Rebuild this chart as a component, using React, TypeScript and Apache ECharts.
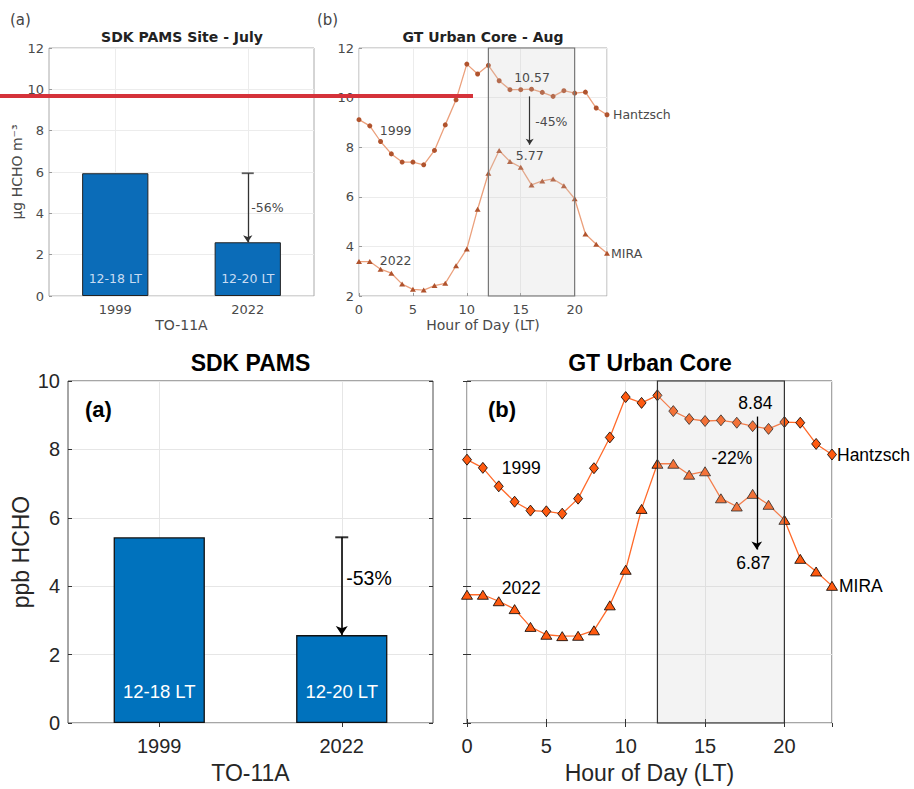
import React, { useEffect, useRef } from 'react';
import * as echarts from 'echarts';

// ---------- data ----------
const barCategories = ['1999', '2022'];
const barPeriodLabels = ['12-18 LT', '12-20 LT'];
const topBarValues = [5.94, 2.6]; // µg HCHO m-3 (TO-11A)
const bottomBarValues = [5.43, 2.57]; // ppb HCHO (TO-11A)
const topBarChange = '-56%';
const bottomBarChange = '-53%';

const hours = [0, 1, 2, 3, 4, 5, 6, 7, 8, 9, 10, 11, 12, 13, 14, 15, 16, 17, 18, 19, 20, 21, 22, 23];

const topHantzsch = [9.11, 8.86, 8.23, 7.73, 7.4, 7.4, 7.29, 7.87, 8.9, 9.91, 11.35, 10.95, 11.3, 10.68, 10.32, 10.32, 10.34, 10.21, 10.05, 10.28, 10.18, 10.22, 9.58, 9.31];
const topMira = [3.39, 3.39, 3.08, 2.92, 2.48, 2.27, 2.24, 2.42, 2.51, 3.22, 3.9, 5.5, 6.95, 7.87, 7.42, 7.19, 6.48, 6.64, 6.72, 6.45, 5.92, 4.5, 4.09, 3.72];

const bottomHantzsch = [7.7, 7.46, 6.92, 6.47, 6.21, 6.19, 6.12, 6.56, 7.45, 8.35, 9.53, 9.36, 9.58, 9.12, 8.89, 8.83, 8.85, 8.78, 8.68, 8.6, 8.8, 8.78, 8.16, 7.85];
const bottomMira = [3.75, 3.75, 3.56, 3.33, 2.81, 2.58, 2.54, 2.55, 2.71, 3.44, 4.48, 6.26, 7.58, 7.58, 7.26, 7.36, 6.57, 6.33, 6.7, 6.38, 5.94, 4.8, 4.43, 4.01];

const afternoonWindow = [12, 20];
const topDiurnalText = { before: '10.57', after: '5.77', change: '-45%' };
const bottomDiurnalText = { before: '8.84', after: '6.87', change: '-22%' };

// ---------- styles ----------
const TOPF = 'DejaVu Sans';
const BOTF = 'Liberation Sans';
const topGray = '#4a4a4a';
const botInk = '#262626';

const pairs = (vals: number[]) => hours.map((h, i) => [h, vals[i]]);

function textMarks(items: { coord: any[]; text: string; pos?: string; dist?: number }[], font: string, size: number, color: string) {
  return {
    silent: true,
    symbol: 'circle',
    symbolSize: 1,
    itemStyle: { color: 'transparent' },
    label: { show: true, color, fontSize: size, fontFamily: font },
    data: items.map((it) => ({
      coord: it.coord,
      label: it.pos
        ? { formatter: it.text, position: it.pos, distance: it.dist ?? 0 }
        : { formatter: it.text, position: 'inside', align: 'center', verticalAlign: 'middle' },
    })),
  };
}

function arrow(from: any[], to: any[], color: string, width: number, size: number) {
  return {
    silent: true,
    symbol: ['none', 'arrow'],
    symbolSize: size,
    label: { show: false },
    lineStyle: { color, width, type: 'solid' },
    data: [[{ coord: from }, { coord: to }]],
  };
}

function catGrid(color: string, xi: number) {
  return {
    type: 'line',
    xAxisIndex: xi,
    yAxisIndex: xi,
    data: [],
    markLine: {
      silent: true,
      z: 1,
      symbol: ['none', 'none'],
      label: { show: false },
      lineStyle: { color, type: 'solid', width: 1 },
      data: barCategories.map((c) => ({ xAxis: c })),
    },
  };
}

const tickOnly = (len: number, color: string) => ({
  axisLine: { show: false },
  axisTick: { show: true, inside: true, length: len, lineStyle: { color } },
  axisLabel: { show: false },
  splitLine: { show: false },
});

const option: any = {
  animation: false,
  backgroundColor: '#fff',
  grid: [
    { left: 49, top: 48, width: 265, height: 248, show: true, borderColor: '#aaa', borderWidth: 1, outerBoundsMode: 'none' },
    { left: 359, top: 48, width: 248, height: 248, show: true, borderColor: '#aaa', borderWidth: 1, outerBoundsMode: 'none' },
    { left: 68, top: 381, width: 365, height: 342, show: true, borderColor: '#4d4d4d', borderWidth: 1, outerBoundsMode: 'none' },
    { left: 467, top: 381, width: 365, height: 342, show: true, borderColor: '#4d4d4d', borderWidth: 1, outerBoundsMode: 'none' },
  ],
  xAxis: [
    {
      type: 'category', gridIndex: 0, data: barCategories,
      axisLine: { show: false },
      axisTick: { show: true, inside: true, alignWithLabel: true, length: 3, lineStyle: { color: '#999' } },
      axisLabel: { color: topGray, fontSize: 13, fontFamily: TOPF, margin: 7 },
      splitLine: { show: false },
      name: 'TO-11A', nameLocation: 'middle', nameGap: 22,
      nameTextStyle: { color: topGray, fontSize: 14, fontFamily: TOPF },
    },
    {
      type: 'value', gridIndex: 1, min: 0, max: 23, interval: 5,
      axisLine: { show: false },
      axisTick: { show: true, inside: true, length: 3, lineStyle: { color: '#999' } },
      axisLabel: { color: topGray, fontSize: 13, fontFamily: TOPF, margin: 7, showMaxLabel: false },
      splitLine: { show: true, lineStyle: { color: '#ececec' } },
      name: 'Hour of Day (LT)', nameLocation: 'middle', nameGap: 22,
      nameTextStyle: { color: topGray, fontSize: 14, fontFamily: TOPF },
    },
    {
      type: 'category', gridIndex: 2, data: barCategories,
      axisLine: { show: false },
      axisTick: { show: true, inside: true, alignWithLabel: true, length: 4, lineStyle: { color: '#333' } },
      axisLabel: { color: botInk, fontSize: 20, fontFamily: BOTF, margin: 13 },
      splitLine: { show: false },
      name: 'TO-11A', nameLocation: 'middle', nameGap: 38,
      nameTextStyle: { color: botInk, fontSize: 23, fontFamily: BOTF },
    },
    {
      type: 'value', gridIndex: 3, min: 0, max: 23, interval: 5,
      axisLine: { show: false },
      axisTick: { show: true, inside: true, length: 4, lineStyle: { color: '#333' } },
      axisLabel: { color: botInk, fontSize: 20, fontFamily: BOTF, margin: 13, showMaxLabel: false },
      splitLine: { show: true, lineStyle: { color: '#e6e6e6' } },
      name: 'Hour of Day (LT)', nameLocation: 'middle', nameGap: 38,
      nameTextStyle: { color: botInk, fontSize: 23, fontFamily: BOTF },
    },
    // top-side tick marks of the lower panels (box ticks)
    { type: 'category', gridIndex: 2, position: 'top', data: barCategories, ...tickOnly(4, '#333'), axisTick: { show: true, inside: true, alignWithLabel: true, length: 4, lineStyle: { color: '#333' } } },
    { type: 'value', gridIndex: 3, position: 'top', min: 0, max: 23, interval: 5, ...tickOnly(4, '#333') },
  ],
  yAxis: [
    {
      type: 'value', gridIndex: 0, min: 0, max: 12, interval: 2,
      axisLine: { show: false },
      axisTick: { show: true, inside: true, length: 3, lineStyle: { color: '#999' } },
      axisLabel: { color: topGray, fontSize: 13, fontFamily: TOPF, margin: 5 },
      splitLine: { show: true, lineStyle: { color: '#ececec' } },
      name: 'µg HCHO m⁻³', nameLocation: 'middle', nameGap: 16, nameRotate: 90,
      nameTextStyle: { color: topGray, fontSize: 14, fontFamily: TOPF },
    },
    {
      type: 'value', gridIndex: 1, min: 2, max: 12, interval: 2,
      axisLine: { show: false },
      axisTick: { show: true, inside: true, length: 3, lineStyle: { color: '#999' } },
      axisLabel: { color: topGray, fontSize: 13, fontFamily: TOPF, margin: 5 },
      splitLine: { show: true, lineStyle: { color: '#ececec' } },
    },
    {
      type: 'value', gridIndex: 2, min: 0, max: 10, interval: 2,
      axisLine: { show: false },
      axisTick: { show: true, inside: true, length: 4, lineStyle: { color: '#333' } },
      axisLabel: { color: botInk, fontSize: 20, fontFamily: BOTF, margin: 8 },
      splitLine: { show: true, lineStyle: { color: '#e6e6e6' } },
      name: 'ppb HCHO', nameLocation: 'middle', nameGap: 36, nameRotate: 90,
      nameTextStyle: { color: botInk, fontSize: 23, fontFamily: BOTF },
    },
    {
      type: 'value', gridIndex: 3, min: 0, max: 10, interval: 2,
      axisLine: { show: false },
      axisTick: { show: true, inside: true, length: 4, lineStyle: { color: '#333' } },
      axisLabel: { show: false },
      splitLine: { show: true, lineStyle: { color: '#e6e6e6' } },
    },
    // right-side tick marks of the lower panels (box ticks)
    { type: 'value', gridIndex: 2, position: 'right', min: 0, max: 10, interval: 2, ...tickOnly(4, '#333') },
    { type: 'value', gridIndex: 3, position: 'right', min: 0, max: 10, interval: 2, ...tickOnly(4, '#333') },
  ],
  series: [
    // ----- top-left: bars -----
    catGrid('#ececec', 0),
    {
      type: 'bar', xAxisIndex: 0, yAxisIndex: 0, z: 2, data: topBarValues, barWidth: '50%',
      itemStyle: { color: '#0b6cb8', borderColor: '#222', borderWidth: 1 },
      label: {
        show: true, position: 'insideBottom', distance: 11,
        formatter: (p: any) => barPeriodLabels[p.dataIndex],
        color: '#c9dcf2', fontSize: 12.5, fontFamily: TOPF,
      },
    },
    {
      type: 'scatter', xAxisIndex: 0, yAxisIndex: 0, z: 4, silent: true,
      data: [[1, topBarValues[0]]], symbol: 'rect', symbolSize: [12, 1.8],
      itemStyle: { color: '#333' },
      markLine: arrow([1, topBarValues[0]], [1, topBarValues[1]], '#333', 1.3, 7),
      markPoint: textMarks([{ coord: [1, 4.26], text: topBarChange, pos: 'right', dist: 3 }], TOPF, 12.5, topGray),
    },
    // ----- top-right: diurnal -----
    {
      type: 'line', xAxisIndex: 1, yAxisIndex: 1, z: 2, data: pairs(topHantzsch),
      symbol: 'circle', symbolSize: 5, showAllSymbol: true,
      lineStyle: { color: '#eba07c', width: 1.3 }, itemStyle: { color: '#b0532d', borderWidth: 0 },
      endLabel: { show: true, formatter: 'Hantzsch', distance: 6, color: topGray, fontSize: 12.5, fontFamily: TOPF },
    },
    {
      type: 'line', xAxisIndex: 1, yAxisIndex: 1, z: 2, data: pairs(topMira),
      symbol: 'triangle', symbolSize: [6, 5], showAllSymbol: true,
      lineStyle: { color: '#eba07c', width: 1.3 }, itemStyle: { color: '#b0532d', borderWidth: 0 },
      endLabel: { show: true, formatter: 'MIRA', distance: 4, color: topGray, fontSize: 12.5, fontFamily: TOPF },
    },
    {
      type: 'line', xAxisIndex: 1, yAxisIndex: 1, z: 3, data: [],
      markArea: {
        silent: true, z: 3,
        itemStyle: { color: 'rgba(200,200,200,0.22)', borderColor: '#777', borderWidth: 1.2 },
        data: [[{ xAxis: afternoonWindow[0] }, { xAxis: afternoonWindow[1] }]],
      },
      markLine: arrow([15.83, 10.05], [15.83, 8.1], '#333', 1.2, 6),
      markPoint: textMarks(
        [
          { coord: [16.05, 10.83], text: topDiurnalText.before },
          { coord: [15.83, 9.04], text: topDiurnalText.change, pos: 'right', dist: 5 },
          { coord: [15.83, 7.65], text: topDiurnalText.after },
          { coord: [3.4, 8.66], text: '1999' },
          { coord: [3.4, 3.45], text: '2022' },
        ],
        TOPF, 12.5, topGray,
      ),
    },
    // ----- bottom-left: bars -----
    catGrid('#e6e6e6', 2),
    {
      type: 'bar', xAxisIndex: 2, yAxisIndex: 2, z: 2, data: bottomBarValues, barWidth: '50%',
      itemStyle: { color: '#0072bd', borderColor: '#111', borderWidth: 1.3 },
      label: {
        show: true, position: 'insideBottom', distance: 22,
        formatter: (p: any) => barPeriodLabels[p.dataIndex],
        color: '#ffffff', fontSize: 18.5, fontFamily: BOTF,
      },
    },
    {
      type: 'scatter', xAxisIndex: 2, yAxisIndex: 2, z: 4, silent: true,
      data: [[1, bottomBarValues[0]]], symbol: 'rect', symbolSize: [13, 2],
      itemStyle: { color: '#000' },
      markLine: arrow([1, bottomBarValues[0]], [1, bottomBarValues[1]], '#000', 1.6, 9),
      markPoint: textMarks([{ coord: [1, 4.24], text: bottomBarChange, pos: 'right', dist: 4 }], BOTF, 19.5, '#000'),
    },
    // ----- bottom-right: diurnal -----
    {
      type: 'line', xAxisIndex: 3, yAxisIndex: 3, z: 2, data: pairs(bottomHantzsch),
      symbol: 'diamond', symbolSize: [9, 11], showAllSymbol: true,
      lineStyle: { color: '#ff6a2a', width: 1.3 },
      itemStyle: { color: '#ff5a10', borderColor: '#000', borderWidth: 0.8 },
      endLabel: { show: true, formatter: 'Hantzsch', distance: 5, color: '#000', fontSize: 17.5, fontFamily: BOTF },
    },
    {
      type: 'line', xAxisIndex: 3, yAxisIndex: 3, z: 2, data: pairs(bottomMira),
      symbol: 'triangle', symbolSize: [11, 9], showAllSymbol: true,
      lineStyle: { color: '#ff6a2a', width: 1.3 },
      itemStyle: { color: '#ff5a10', borderColor: '#000', borderWidth: 0.8 },
      endLabel: { show: true, formatter: 'MIRA', distance: 7, color: '#000', fontSize: 17.5, fontFamily: BOTF },
    },
    {
      type: 'line', xAxisIndex: 3, yAxisIndex: 3, z: 3, data: [],
      markArea: {
        silent: true, z: 3,
        itemStyle: { color: 'rgba(200,200,200,0.22)', borderColor: '#333', borderWidth: 1.2 },
        data: [[{ xAxis: afternoonWindow[0] }, { xAxis: afternoonWindow[1] }]],
      },
      markLine: arrow([18.26, 8.96], [18.26, 5.07], '#000', 1.3, 8),
      markPoint: textMarks(
        [
          { coord: [18.17, 9.37], text: bottomDiurnalText.before },
          { coord: [18.26, 7.76], text: bottomDiurnalText.change, pos: 'left', dist: 4 },
          { coord: [18.04, 4.69], text: bottomDiurnalText.after },
          { coord: [3.42, 7.47], text: '1999' },
          { coord: [3.42, 3.96], text: '2022' },
        ],
        BOTF, 17.5, '#000',
      ),
    },
  ],
  graphic: [
    { type: 'text', x: 10, y: 20, style: { text: '(a)', fill: '#444', font: '15px "DejaVu Sans"', align: 'left', verticalAlign: 'middle' } },
    { type: 'text', x: 182, y: 37, style: { text: 'SDK PAMS Site - July', fill: '#222', font: 'bold 14px "DejaVu Sans"', align: 'center', verticalAlign: 'middle' } },
    { type: 'text', x: 317, y: 20, style: { text: '(b)', fill: '#444', font: '15px "DejaVu Sans"', align: 'left', verticalAlign: 'middle' } },
    { type: 'text', x: 483, y: 37, style: { text: 'GT Urban Core - Aug', fill: '#222', font: 'bold 14px "DejaVu Sans"', align: 'center', verticalAlign: 'middle' } },
    { type: 'text', x: 250.5, y: 363, style: { text: 'SDK PAMS', fill: '#000', font: 'bold 23px "Liberation Sans"', align: 'center', verticalAlign: 'middle' } },
    { type: 'text', x: 650, y: 363, style: { text: 'GT Urban Core', fill: '#000', font: 'bold 23px "Liberation Sans"', align: 'center', verticalAlign: 'middle' } },
    { type: 'text', x: 85, y: 409, z: 10, style: { text: '(a)', fill: '#000', font: 'bold 22px "Liberation Sans"', align: 'left', verticalAlign: 'middle' } },
    { type: 'text', x: 488, y: 409, z: 10, style: { text: '(b)', fill: '#000', font: 'bold 22px "Liberation Sans"', align: 'left', verticalAlign: 'middle' } },
    { type: 'line', z: 100, shape: { x1: 0, y1: 96, x2: 473, y2: 96 }, style: { stroke: '#d5323a', lineWidth: 4 } },
  ],
};

export default function App() {
  const ref = useRef<HTMLDivElement>(null);
  useEffect(() => {
    document.body.style.margin = '0';
    const chart = echarts.init(ref.current as HTMLDivElement, null, { renderer: 'svg' });
    chart.setOption(option);
    return () => chart.dispose();
  }, []);
  return <div ref={ref} style={{ width: 914, height: 789 }} />;
}
